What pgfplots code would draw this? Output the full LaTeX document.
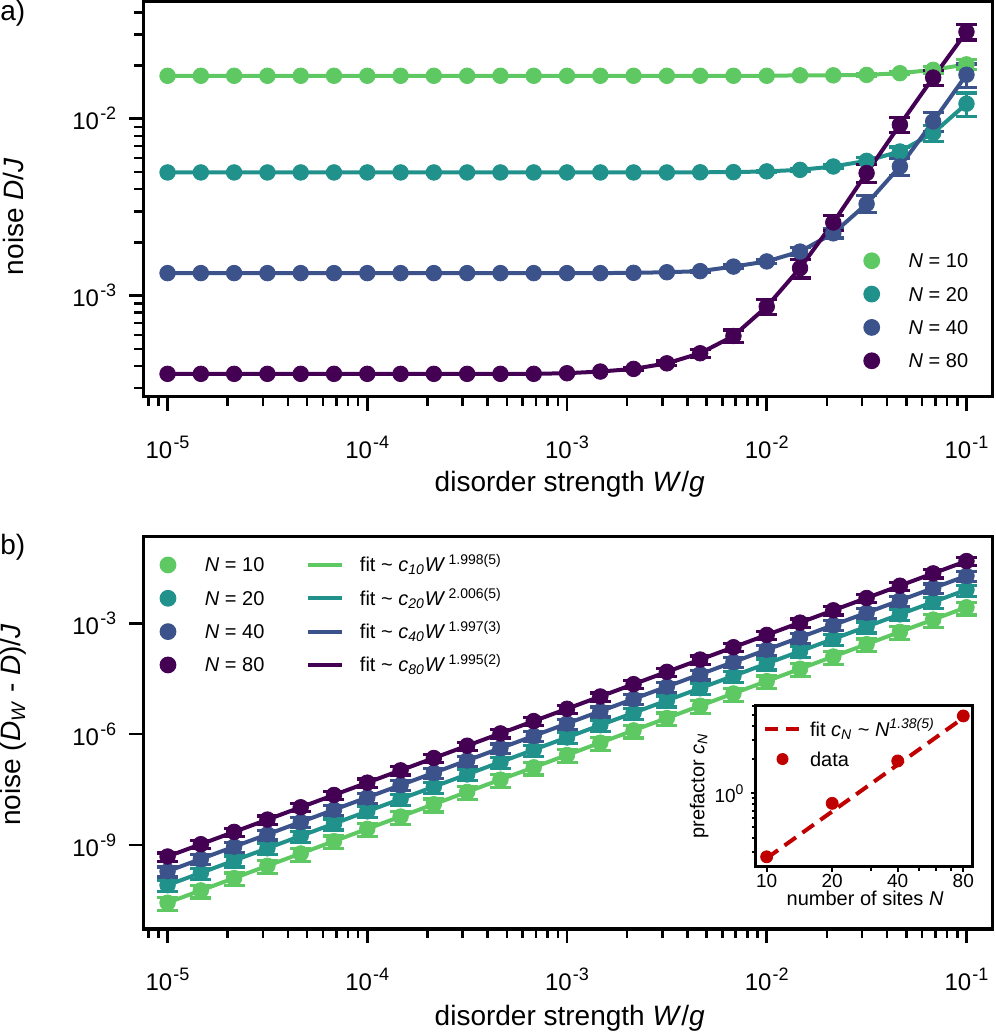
\documentclass[border=0pt]{standalone}
\usepackage{fontspec}
\setmainfont{Liberation Sans}
\usepackage{pgfplots}
\usepackage{pgfplotstable}
\pgfplotsset{compat=1.18}

\definecolor{cA}{HTML}{5EC962}
\definecolor{cB}{HTML}{21918C}
\definecolor{cC}{HTML}{3B528B}
\definecolor{cD}{HTML}{440154}
\definecolor{cR}{HTML}{C00000}

\newcommand{\tl}[1]{\mbox{\fontsize{12}{14}\selectfont 10\kern0.6pt\raisebox{5pt}{\fontsize{9}{10}\selectfont #1}}}
\newcommand{\itl}[1]{\mbox{\fontsize{9.5}{11}\selectfont #1}}

\pgfplotsset{
  dotleg/.style 2 args={legend image code/.code={%
      \path[draw=none,fill=none] (0pt,-4.2pt) rectangle (#2,4.2pt);
      \fill[#1, draw=none] (4.2pt,0pt) circle[radius=4.2pt];}},
  linleg/.style 2 args={legend image code/.code={%
      \path[draw=none,fill=none] (-#2,-2pt) rectangle (26pt,2pt);
      \draw[#1, line width=2pt] (0pt,0pt) -- (17pt,0pt);}},
  dataA/.style={line width=2pt, mark=*, mark size=3.9pt, mark options={solid, line width=0.4pt}},
  ebars/.style={/pgfplots/error bars/y dir=both, /pgfplots/error bars/y explicit relative,
    /pgfplots/error bars/error mark=-,
    /pgfplots/error bars/error bar style={line width=1.6pt},
    /pgfplots/error bars/error mark options={rotate=90, line width=1.6pt, mark size=5.25pt}},
}

\pgfplotstableread{
x y e
1e-5 0.0175 0.01
1.468e-5 0.0175 0.01
2.154e-5 0.0175 0.01
3.162e-5 0.0175 0.01
4.642e-5 0.0175 0.01
6.813e-5 0.0175 0.01
1e-4 0.0175 0.01
1.468e-4 0.0175 0.01
2.154e-4 0.0175 0.01
3.162e-4 0.0175 0.01
4.642e-4 0.0175 0.01
6.813e-4 0.0175 0.01
1e-3 0.0175 0.01
1.468e-3 0.0175 0.01
2.154e-3 0.0175 0.01
3.162e-3 0.0175 0.01
4.642e-3 0.0175 0.01
6.813e-3 0.0175 0.01
1e-2 0.0175 0.01
1.468e-2 0.0176 0.01
2.154e-2 0.0176 0.01
3.162e-2 0.0177 0.015
4.642e-2 0.0181 0.02
6.813e-2 0.0189 0.04
1e-1 0.0203 0.06
}\dataAten
\pgfplotstableread{
x y e
1e-5 0.00497 0.01
1.468e-5 0.00497 0.01
2.154e-5 0.00497 0.01
3.162e-5 0.00497 0.01
4.642e-5 0.00497 0.01
6.813e-5 0.00497 0.01
1e-4 0.00497 0.01
1.468e-4 0.00497 0.01
2.154e-4 0.00497 0.01
3.162e-4 0.00497 0.01
4.642e-4 0.00497 0.01
6.813e-4 0.00497 0.01
1e-3 0.00497 0.01
1.468e-3 0.00497 0.01
2.154e-3 0.00497 0.01
3.162e-3 0.00497 0.01
4.642e-3 0.00498 0.01
6.813e-3 0.00499 0.01
1e-2 0.00504 0.01
1.468e-2 0.00514 0.015
2.154e-2 0.00537 0.02
3.162e-2 0.00578 0.04
4.642e-2 0.00653 0.06
6.813e-2 0.0083 0.10
1e-1 0.01216 0.15
}\dataAtwenty
\pgfplotstableread{
x y e
1e-5 0.00134 0.01
1.468e-5 0.00134 0.01
2.154e-5 0.00134 0.01
3.162e-5 0.00134 0.01
4.642e-5 0.00134 0.01
6.813e-5 0.00134 0.01
1e-4 0.00134 0.01
1.468e-4 0.00134 0.01
2.154e-4 0.00134 0.01
3.162e-4 0.00134 0.01
4.642e-4 0.00134 0.01
6.813e-4 0.00134 0.01
1e-3 0.00134 0.01
1.468e-3 0.00134 0.01
2.154e-3 0.001345 0.01
3.162e-3 0.001355 0.01
4.642e-3 0.001375 0.01
6.813e-3 0.001459 0.02
1e-2 0.00156 0.03
1.468e-2 0.001774 0.05
2.154e-2 0.00225 0.06
3.162e-2 0.0033 0.11
4.642e-2 0.00537 0.11
6.813e-2 0.00965 0.12
1e-1 0.01774 0.15
}\dataAforty
\pgfplotstableread{
x y e
1e-5 3.61e-4 0.01
1.468e-5 3.61e-4 0.01
2.154e-5 3.61e-4 0.01
3.162e-5 3.61e-4 0.01
4.642e-5 3.61e-4 0.01
6.813e-5 3.61e-4 0.01
1e-4 3.61e-4 0.01
1.468e-4 3.61e-4 0.01
2.154e-4 3.61e-4 0.01
3.162e-4 3.61e-4 0.01
4.642e-4 3.61e-4 0.01
6.813e-4 3.61e-4 0.01
1e-3 3.64e-4 0.01
1.468e-3 3.72e-4 0.01
2.154e-3 3.85e-4 0.015
3.162e-3 4.14e-4 0.03
4.642e-3 4.72e-4 0.05
6.813e-3 5.91e-4 0.08
1e-2 8.67e-4 0.10
1.468e-2 1.43e-3 0.12
2.154e-2 2.59e-3 0.10
3.162e-2 4.93e-3 0.12
4.642e-2 9.25e-3 0.10
6.813e-2 1.71e-2 0.10
1e-1 3.10e-2 0.10
}\dataAeighty

\begin{document}
\begin{tikzpicture}
\path[use as bounding box] (0pt,0pt) rectangle (498pt,-517pt);
\node[anchor=north west, inner sep=0pt, font=\fontsize{14}{17}\selectfont] at (0pt,0pt) {a)};
\node[anchor=north west, inner sep=0pt, font=\fontsize{14}{17}\selectfont] at (0pt,-266.7pt) {b)};

% ---------------- panel a ----------------
\begin{axis}[
  scale only axis, width=424.7pt, xmode=log, ymode=log,
  xmin=7.56e-6, xmax=0.1353,
  axis line style={line width=1.6pt},
  tick align=outside, xtick pos=bottom, ytick pos=left,
  major tick length=7pt, minor tick length=4.5pt,
  tick style={black, line width=1.3pt},
  xtick={1e-5,1e-4,1e-3,1e-2,1e-1},
  xticklabels={\tl{-5},\tl{-4},\tl{-3},\tl{-2},\tl{-1}},
  minor xtick={8e-6,9e-6,2e-5,3e-5,4e-5,5e-5,6e-5,7e-5,8e-5,9e-5,2e-4,3e-4,4e-4,5e-4,6e-4,7e-4,8e-4,9e-4,2e-3,3e-3,4e-3,5e-3,6e-3,7e-3,8e-3,9e-3,2e-2,3e-2,4e-2,5e-2,6e-2,7e-2,8e-2,9e-2},
  yticklabel style={xshift=-3pt},
  xticklabel style={yshift=-9pt},
  label style={font=\fontsize{14}{17}\selectfont},
  xlabel={disorder strength \textit{W}/\textit{g}},
  legend cell align=left,
  at={(71.65pt,-198.35pt)}, anchor=south west, height=197.5pt,
  ymin=2.68e-4, ymax=0.0459,
  ytick={1e-3,1e-2},
  yticklabels={\tl{-3},\tl{-2}},
  minor ytick={3e-4,4e-4,5e-4,6e-4,7e-4,8e-4,9e-4,2e-3,3e-3,4e-3,5e-3,6e-3,7e-3,8e-3,9e-3,2e-2,3e-2,4e-2},
  ylabel={noise \textit{D}/\textit{J}},
  xlabel style={at={(axis description cs:0.502,-0.221)}, anchor=center},
  ylabel style={at={(axis description cs:-0.1528,0.456)}, anchor=center},
  legend style={at={(0.8477,0.367)}, anchor=north west, draw=none, fill=none,
    inner sep=0pt, outer sep=0pt, row sep=7.67pt, column sep=0pt,
    nodes={inner sep=0pt, text height=8pt, text depth=1pt, font=\fontsize{10}{12}\selectfont}},
]
\addlegendimage{dotleg={cA}{22.7pt}}\addlegendentry{\textit{N} = 10}
\addlegendimage{dotleg={cB}{22.7pt}}\addlegendentry{\textit{N} = 20}
\addlegendimage{dotleg={cC}{22.7pt}}\addlegendentry{\textit{N} = 40}
\addlegendimage{dotleg={cD}{22.7pt}}\addlegendentry{\textit{N} = 80}

\addplot[cA, dataA, forget plot] table[x=x, y=y] {\dataAten};
\addplot[cA, only marks, mark=none, forget plot, ebars, skip coords between index={0}{21}] table[x=x, y=y, y error=e] {\dataAten};
\addplot[cB, dataA, forget plot] table[x=x, y=y] {\dataAtwenty};
\addplot[cB, only marks, mark=none, forget plot, ebars, skip coords between index={0}{18}] table[x=x, y=y, y error=e] {\dataAtwenty};
\addplot[cC, dataA, forget plot] table[x=x, y=y] {\dataAforty};
\addplot[cC, only marks, mark=none, forget plot, ebars, skip coords between index={0}{16}] table[x=x, y=y, y error=e] {\dataAforty};
\addplot[cD, dataA, forget plot] table[x=x, y=y] {\dataAeighty};
\addplot[cD, only marks, mark=none, forget plot, ebars, skip coords between index={0}{14}] table[x=x, y=y, y error=e] {\dataAeighty};
\end{axis}

% ---------------- panel b ----------------
\begin{axis}[
  scale only axis, width=424.7pt, xmode=log, ymode=log,
  xmin=7.56e-6, xmax=0.1353,
  axis line style={line width=1.6pt},
  tick align=outside, xtick pos=bottom, ytick pos=left,
  major tick length=7pt, minor tick length=4.5pt,
  tick style={black, line width=1.3pt},
  xtick={1e-5,1e-4,1e-3,1e-2,1e-1},
  xticklabels={\tl{-5},\tl{-4},\tl{-3},\tl{-2},\tl{-1}},
  minor xtick={8e-6,9e-6,2e-5,3e-5,4e-5,5e-5,6e-5,7e-5,8e-5,9e-5,2e-4,3e-4,4e-4,5e-4,6e-4,7e-4,8e-4,9e-4,2e-3,3e-3,4e-3,5e-3,6e-3,7e-3,8e-3,9e-3,2e-2,3e-2,4e-2,5e-2,6e-2,7e-2,8e-2,9e-2},
  yticklabel style={xshift=-3pt},
  xticklabel style={yshift=-9pt},
  label style={font=\fontsize{14}{17}\selectfont},
  xlabel={disorder strength \textit{W}/\textit{g}},
  legend cell align=left,
  at={(71.65pt,-464.5pt)}, anchor=south west, height=196.15pt,
  ymin=5.3e-12, ymax=0.2223,
  ytick={1e-9,1e-6,1e-3},
  yticklabels={\tl{-9},\tl{-6},\tl{-3}},
  minor ytick={1e-20},
  ylabel={noise (\textit{D}\textsubscript{\textit{W}} - \textit{D})/\textit{J}},
  xlabel style={at={(axis description cs:0.502,-0.227)}, anchor=center},
  ylabel style={at={(axis description cs:-0.1528,0.52)}, anchor=center},
  legend columns=2,
  legend style={at={(0.0192,0.951)}, anchor=north west, draw=none, fill=none,
    inner sep=0pt, outer sep=0pt, row sep=7.67pt, column sep=0pt,
    nodes={inner sep=0pt, text height=8pt, text depth=1pt, font=\fontsize{10}{12}\selectfont}},
]
\addlegendimage{dotleg={cA}{22.7pt}}\addlegendentry{\textit{N} = 10}
\addlegendimage{linleg={cA}{21.75pt}}\addlegendentry{fit \textasciitilde{} \textit{c}\textsubscript{\textit{10}}\textit{W}\,\textsuperscript{1.998(5)}}
\addlegendimage{dotleg={cB}{22.7pt}}\addlegendentry{\textit{N} = 20}
\addlegendimage{linleg={cB}{21.75pt}}\addlegendentry{fit \textasciitilde{} \textit{c}\textsubscript{\textit{20}}\textit{W}\,\textsuperscript{2.006(5)}}
\addlegendimage{dotleg={cC}{22.7pt}}\addlegendentry{\textit{N} = 40}
\addlegendimage{linleg={cC}{21.75pt}}\addlegendentry{fit \textasciitilde{} \textit{c}\textsubscript{\textit{40}}\textit{W}\,\textsuperscript{1.997(3)}}
\addlegendimage{dotleg={cD}{22.7pt}}\addlegendentry{\textit{N} = 80}
\addlegendimage{linleg={cD}{21.75pt}}\addlegendentry{fit \textasciitilde{} \textit{c}\textsubscript{\textit{80}}\textit{W}\,\textsuperscript{1.995(2)}}

\addplot[cA, line width=2pt, forget plot] coordinates {(1e-5,2.73e-11) (1e-1,2.73e-3)};
\addplot[cA, only marks, mark=*, mark size=3.9pt, mark options={line width=0.4pt}, forget plot, ebars] table[x=x, y=y, y error=e] {
x y e
1e-5 2.73e-11 0.38
1.468e-5 5.88e-11 0.38
2.154e-5 1.267e-10 0.38
3.162e-5 2.73e-10 0.38
4.642e-5 5.88e-10 0.38
6.813e-5 1.267e-9 0.38
1e-4 2.73e-9 0.38
1.468e-4 5.88e-9 0.38
2.154e-4 1.267e-8 0.38
3.162e-4 2.73e-8 0.38
4.642e-4 5.88e-8 0.38
6.813e-4 1.267e-7 0.38
1e-3 2.73e-7 0.38
1.468e-3 5.88e-7 0.38
2.154e-3 1.267e-6 0.38
3.162e-3 2.73e-6 0.38
4.642e-3 5.88e-6 0.38
6.813e-3 1.267e-5 0.38
1e-2 2.73e-5 0.38
1.468e-2 5.88e-5 0.38
2.154e-2 1.267e-4 0.38
3.162e-2 2.73e-4 0.38
4.642e-2 5.88e-4 0.38
6.813e-2 1.267e-3 0.38
1e-1 2.73e-3 0.38
};
\addplot[cB, line width=2pt, forget plot] coordinates {(1e-5,8.15e-11) (1e-1,8.15e-3)};
\addplot[cB, only marks, mark=*, mark size=3.9pt, mark options={line width=0.4pt}, forget plot, ebars] table[x=x, y=y, y error=e] {
x y e
1e-5 8.15e-11 0.33
1.468e-5 1.756e-10 0.33
2.154e-5 3.784e-10 0.33
3.162e-5 8.15e-10 0.33
4.642e-5 1.756e-9 0.33
6.813e-5 3.784e-9 0.33
1e-4 8.15e-9 0.33
1.468e-4 1.756e-8 0.33
2.154e-4 3.784e-8 0.33
3.162e-4 8.15e-8 0.33
4.642e-4 1.756e-7 0.33
6.813e-4 3.784e-7 0.33
1e-3 8.15e-7 0.33
1.468e-3 1.756e-6 0.33
2.154e-3 3.784e-6 0.33
3.162e-3 8.15e-6 0.33
4.642e-3 1.756e-5 0.33
6.813e-3 3.784e-5 0.33
1e-2 8.15e-5 0.33
1.468e-2 1.756e-4 0.33
2.154e-2 3.784e-4 0.33
3.162e-2 8.15e-4 0.33
4.642e-2 1.756e-3 0.33
6.813e-2 3.784e-3 0.33
1e-1 8.15e-3 0.33
};
\addplot[cC, line width=2pt, forget plot] coordinates {(1e-5,1.94e-10) (1e-1,1.94e-2)};
\addplot[cC, only marks, mark=*, mark size=3.9pt, mark options={line width=0.4pt}, forget plot, ebars] table[x=x, y=y, y error=e] {
x y e
1e-5 1.94e-10 0.3
1.468e-5 4.18e-10 0.3
2.154e-5 9.005e-10 0.3
3.162e-5 1.94e-9 0.3
4.642e-5 4.18e-9 0.3
6.813e-5 9.005e-9 0.3
1e-4 1.94e-8 0.3
1.468e-4 4.18e-8 0.3
2.154e-4 9.005e-8 0.3
3.162e-4 1.94e-7 0.3
4.642e-4 4.18e-7 0.3
6.813e-4 9.005e-7 0.3
1e-3 1.94e-6 0.3
1.468e-3 4.18e-6 0.3
2.154e-3 9.005e-6 0.3
3.162e-3 1.94e-5 0.3
4.642e-3 4.18e-5 0.3
6.813e-3 9.005e-5 0.3
1e-2 1.94e-4 0.3
1.468e-2 4.18e-4 0.3
2.154e-2 9.005e-4 0.3
3.162e-2 1.94e-3 0.3
4.642e-2 4.18e-3 0.3
6.813e-2 9.005e-3 0.3
1e-1 1.94e-2 0.3
};
\addplot[cD, line width=2pt, forget plot] coordinates {(1e-5,4.87e-10) (1e-1,4.87e-2)};
\addplot[cD, only marks, mark=*, mark size=3.9pt, mark options={line width=0.4pt}, forget plot, ebars] table[x=x, y=y, y error=e] {
x y e
1e-5 4.87e-10 0.25
1.468e-5 1.049e-9 0.25
2.154e-5 2.261e-9 0.25
3.162e-5 4.87e-9 0.25
4.642e-5 1.049e-8 0.25
6.813e-5 2.261e-8 0.25
1e-4 4.87e-8 0.25
1.468e-4 1.049e-7 0.25
2.154e-4 2.261e-7 0.25
3.162e-4 4.87e-7 0.25
4.642e-4 1.049e-6 0.25
6.813e-4 2.261e-6 0.25
1e-3 4.87e-6 0.25
1.468e-3 1.049e-5 0.25
2.154e-3 2.261e-5 0.25
3.162e-3 4.87e-5 0.25
4.642e-3 1.049e-4 0.25
6.813e-3 2.261e-4 0.25
1e-2 4.87e-4 0.25
1.468e-2 1.049e-3 0.25
2.154e-2 2.261e-3 0.25
3.162e-2 4.87e-3 0.25
4.642e-2 1.049e-2 0.25
6.813e-2 2.261e-2 0.25
1e-1 4.87e-2 0.25
};
\end{axis}

% ---------------- inset ----------------
\begin{axis}[
  at={(377.75pt,-433.35pt)}, anchor=south west,
  scale only axis, width=108.5pt, height=80.85pt,
  xmode=log, ymode=log, xmin=8.89, xmax=88.2, ymin=0.223, ymax=6.09,
  axis background/.style={fill=white},
  axis line style={line width=1.5pt},
  tick align=outside, xtick pos=bottom, ytick pos=left,
  major tick length=2.5pt, minor tick length=2pt,
  tick style={black, line width=1pt},
  xtick={10,20,40,80},
  xticklabels={\itl{10},\itl{20},\itl{40},\itl{80}},
  minor xtick={30,50,60,70},
  ytick={1}, yticklabels={\itl{10\raisebox{4pt}{\fontsize{7}{8}\selectfont 0}}},
  minor ytick={0.3,0.4,0.5,0.6,0.7,0.8,0.9,2,3,4,5,6},
  xticklabel style={inner sep=1pt},
  label style={font=\fontsize{10}{12}\selectfont},
  xlabel={number of sites \textit{N}},
  ylabel={prefactor \textit{c}\textsubscript{\textit{N}}},
  xlabel style={at={(axis description cs:0.505,-0.194)}, anchor=center},
  ylabel style={at={(axis description cs:-0.26,0.5)}, anchor=center},
  legend cell align=left,
  legend style={at={(0.0346,0.907)}, anchor=north west, draw=none, fill=none,
    inner sep=0pt, outer sep=0pt, row sep=6pt, column sep=0pt,
    nodes={inner sep=0pt, text height=8pt, text depth=1pt, font=\fontsize{10}{12}\selectfont}},
]
\addlegendimage{legend image code/.code={\path[draw=none,fill=none] (0pt,-3pt) rectangle (22.5pt,3pt);
  \draw[cR, line width=2pt, dash pattern=on 6.5pt off 4pt] (0pt,0pt) -- (17.5pt,0pt);}}
\addlegendentry{fit \textit{c}\textsubscript{\textit{N}} \textasciitilde{} \textit{N}\textsuperscript{\textit{1.38(5)}}}
\addlegendimage{legend image code/.code={\path[draw=none,fill=none] (0pt,-3pt) rectangle (22.5pt,3pt);
  \fill[cR, draw=none] (8.75pt,0pt) circle[radius=3pt];}}
\addlegendentry{data}
\addplot[cR, only marks, mark=*, mark size=3pt, forget plot] coordinates {(10,0.273) (20,0.815) (40,1.94) (80,4.87)};
\addplot[cR, line width=2pt, dash pattern=on 7pt off 4pt, forget plot] coordinates {(10,0.265) (80,4.68)};
\end{axis}
\end{tikzpicture}
\end{document}
